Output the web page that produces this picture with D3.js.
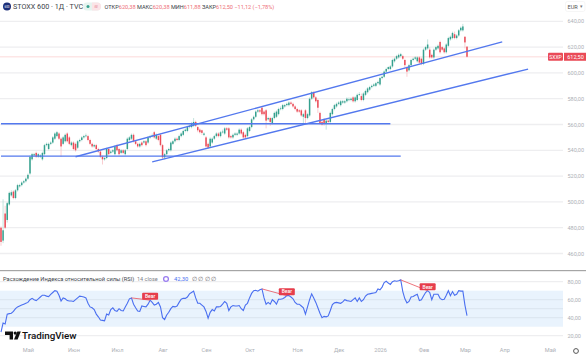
<!DOCTYPE html>
<html>
<head>
<meta charset="utf-8">
<script src="https://d3js.org/d3.v7.min.js"></script>
<style>
  html, body { margin: 0; padding: 0; background: #fff; overflow: hidden; }
  svg { display: block; font-family: Roboto, sans-serif; }
  .soft { filter: blur(0.35px); }
</style>
</head>
<body>
<svg id="chart" width="586" height="356"></svg>
<script>
const opens = [
  480,470,491,486,498,505,508,503,509,512, 513,515,516,518,522,533,536,538,535,535,
  533,537,544,541,545,546,549,551,553,549, 545,547,553,550,544,546,545,542,547,548,
  550,551,551,548,545,543,544,541,539,535, 533,534,541,538,539,537,544,541,538,540,
  537,541,548,549,552,547,545,543,546,546, 547,546,550,551,554,549,551,552,544,534.5,
  537,540,540,545,547,549,548,551,552,555, 555,558,558,559,562,558,556,555.5,552,550,
  545,543,546,549,551,553,551,554,553,557, 557,551,550,552,552,553,556,554,552,551,
  555,558,564,566,570,571,573,570,571,564, 565,561,565,566,568,572,572,574,575,575,
  577,576,574,572,571,571,566,571,565,567, 580,585,581,579,569,562,564,561,563,562,
  568,572,574,576,575,577,577,578,579,579, 581,578,579,583,582,579,583,585,587,589,
  590,590,592,591,596,597,601,603,603,605, 609,611,612,613,613,610,604,602,606,610,
  611,609,612,611,607,618,619,618,614,612, 618,619,624,620,619,616,621,626,627,630,
  627,629,633,633,628,620.38
];
const closes = [
  469,478,480,499,507,507.5,503,509,513,513, 515,516,518,521,535,537,537,535,537,536,
  538,544,545,545,546,550,553,554,549,543, 550,552,547,545,546,541,540,547,548,550,
  551,551.5,548,545,543,544,541,539,535,533, 534,541,537,539,540,543,540,537,540,538,
  540,549,550,552,547,545,543,545,544,547, 544,550,551,551.5,550,552,548,544,534.5,537,
  540,541,546,547,549,548,551,553,555,556, 558,559,561,562,559,555.5,554,553.5,553,543,
  542,549,549,551,553,551,554,554.5,557,556, 550,550,552,553,553,556,553,550,550,557,
  558,564,566,570,571,570,568,568,563,565, 562,565,569,570,572,572.5,575,575,576,577,
  576,574,572,570,570,567,568,565,568,580, 585,581,578,573,561,560,561,563,562,569,
  572,575,576,577,578,578,578,580,579.5,580, 578,581,583,583.5,579,584,586,588,589,590,
  591,592,593,596,597,601,603,604.5,605,610, 611,613,614,614.5,611,606,601,606,610,611,
  612,612,608,607,618,620,622,612,612,618, 620,621,616,618,616,622,627,628,631,627,
  629,633,635,636,623.62,612.5
];
const highs = [
  481,502,497,500,508,509,509,510,514,514, 516,517,519,522,536,538,538,539,538,537,
  539,545,546,546,547,551,554,555,554,550, 551,553,554,551,547,547,546,548,549,551,
  552,553,552,549,546,545,545,542,540,536, 535,542,542,540,541,544,545,542,541,541,
  541,550,551,553,553,548,546,546,547,548, 548,551,552,553,555,553,552,553,545,538,
  541,542,547,548,550,550,552,554,556,557, 559,560,562,565,563,559,557,556,554,551,
  546,550,550,552,554,554,555,556,558,558, 558,552,553,554,554,557,557,555,553,558,
  559,565,567,571,572,572,574,571,572,566, 566,566,570,571,573,574,576,576,577,578,
  578,577,575,573,572,572,569,572,569,581, 586,586,582,580,570,563,565,564,564,570,
  573,576,577,578,579,579,579,581,581,581, 582,582,584,585,584,585,587,589,590,591,
  592,593,594,597,598,602,604,605,606,611, 612,614,615,615.5,614,611,605,607,611,612,
  613,613,613,612,619,621,626,620,615,619, 621,622,625,621,620,623,628,629,632,632,
  630,634,636,638,628.5,620.38
];
const lows = [
  466,468,479,484,497,504,502,502,508,511, 512,514,515,517,521,532,535,534,534,534,
  532,536,543,540,544,545,548,550,548,535, 544,546,546,544,543,540,539,541,546,547,
  549,550,547,544,542,542,540,538,534,529, 532,533,536,537,538,536,539,536,537,537,
  536,540,547,548,546,544,542,542,543,545, 543,545,549,550,549,548,547,543,533,533,
  536,539,539,544,546,547,547,550,551,554, 554,557,557,558,558,554,553,552,551,542,
  541,542,545,548,550,550,550,553,552,555, 549,549,549,551,551,552,552,549,549,550,
  554,557,563,565,569,569,567,567,557,563, 559,560,564,565,567,571,571,573,574,574,
  575,573,571,569,569,566,561,561,564,566, 579,580,577,569,560,559,559,556,561,561,
  567,571,573,575,574,576,576,577,578,578, 577,577,578,582,578,578,582,584,586,588,
  589,589,591,590,595,596,600,602,602,604, 608,610,611,612,610,604,597,601,605,609,
  610,608,607,606,606,617,618,611,611,611, 617,618,615,617,615,615,620,625,626,626,
  626,628,632,632,619,611.88
];
const rsi = [
  24,34,33,44,44.5,45,47,50,52,53, 54,55,56,57,60,61.5,60,59,61,63,
  65,65,64,63.5,66,68,70,69.5,65,58.5, 62,61,59,58.5,58.5,58,60,62,64,63.5,
  63,62,56,52,51,49,44,41,37.5,37, 36.5,44,43,49,51,48,47,50,48,47.5,
  52,56,61,62,55,51,47.5,47,53,52.5, 52,55,59.5,57,54,55,57,52,40,38,
  43,46,50,52.5,52,53,57,60.5,61.5,61.5, 63,66.5,68,69.5,62,56,56,54,52,47,
  39.5,46,49,47.5,52,52,52.5,55,58,56, 48,52,53.5,53,53,53.5,50,48,54,56,
  62,67,70,70.5,69.5,71,72,62,55,57, 55,60,58,55,60.5,60.5,61,62.5,64.5,64.5,
  63,61,57,55,55,53,51,44,52,60, 66.5,62,57,51,45,40,41.5,41,42,48,
  54.5,56.5,57,56.5,56,57.5,60,59,58.5,58, 60,62,58,62,58,60,64,66,66.5,67,
  67.5,68,72,71,74,79,80.5,78.5,77,80, 81,80.5,81,82,69,61,56.5,58,63,63.5,
  65,66,59,60,64,68,70,68,60,66, 66,66,61.5,60,60.5,65,70,64.5,69,65,
  66,70,69.5,69.5,54,42.3
];

const priceTicks = [640,620,600,580,560,540,520,500,480,460];
const rsiTicks = [80,60,40,20];
const rsiGrid = [80,60,50,40,20];
const monthBars = [13,35,56,78,99,120,143,163,183,204,224,243,265];
const monthLabels = ['Май','Июн','Июл','Авг','Сен','Окт','Ноя','Дек','2026','Фев','Мар','Апр','Май'];

// trend lines, [bar, price]
const hLines = [[[0,560.6],[188,560.6]], [[0,535.5],[193,535.5]]];
const channelLines = [[[36,535],[242,624]], [[73,531],[254.5,603]]];
// bar pairs of the rsi divergences
const bearPairs = [[63,72],[126,138],[193,206]];

const lastPrice = 612.5;
const header = [
  ['ОТКР','620,38'],['МАКС','620,38'],['МИН','611,88'],['ЗАКР','612,50']
];

const width = 586;
const height = 356;
const axisX = 563;
const up = '#35a08e';
const down = '#ea4b57';
const upWick = '#b4dcd4';
const downWick = '#f8c0c4';
const blue = '#5378ee';
const gridColor = '#eeeef0';
const axisText = '#adb0b6';

const svg = d3.select('#chart');
const x = d3.scaleLinear().domain([0, 225]).range([1, 467]);
const y = d3.scaleLinear().domain([640, 460]).range([21.3, 253.5]);
const yRsi = d3.scaleLinear().domain([80, 20]).range([281.7, 335.7]);

const plot = svg.append('g').attr('class', 'soft');

// grid
plot.append('g').selectAll('line').data(priceTicks).join('line')
    .attr('x1', 0).attr('x2', axisX)
    .attr('y1', d => y(d)).attr('y2', d => y(d))
    .attr('stroke', gridColor).attr('stroke-width', 1.3);

// current price line
plot.append('line')
    .attr('x1', 0).attr('x2', 548)
    .attr('y1', y(lastPrice)).attr('y2', y(lastPrice))
    .attr('stroke', '#fde6e6').attr('stroke-width', 1.5);

// candles
const bars = plot.append('g').selectAll('g').data(closes).join('g');
bars.append('line')
    .attr('x1', (d, i) => x(i)).attr('x2', (d, i) => x(i))
    .attr('y1', (d, i) => y(highs[i])).attr('y2', (d, i) => y(lows[i]))
    .attr('stroke', (d, i) => d >= opens[i] ? upWick : downWick)
    .attr('stroke-width', 0.8);
bars.append('rect')
    .attr('x', (d, i) => x(i) - 0.75)
    .attr('width', 1.5)
    .attr('y', (d, i) => y(Math.max(d, opens[i])))
    .attr('height', (d, i) => Math.max(Math.abs(y(d) - y(opens[i])), 0.8))
    .attr('fill', (d, i) => d >= opens[i] ? up : down);

// trend lines
const trend = d3.line().x(d => x(d[0])).y(d => y(d[1]));
plot.append('g').selectAll('path').data(hLines).join('path')
    .attr('d', trend).attr('fill', 'none')
    .attr('stroke', blue).attr('stroke-width', 1.4);
plot.append('g').selectAll('path').data(channelLines).join('path')
    .attr('d', trend).attr('fill', 'none')
    .attr('stroke', blue).attr('stroke-width', 1.3);

// price axis
svg.append('g').selectAll('text').data(priceTicks).join('text')
    .attr('x', 567.5).attr('y', d => y(d) + 2)
    .attr('font-size', 5.5).attr('fill', axisText)
    .text(d => d3.format('.2f')(d).replace('.', ','));

// currency box
svg.append('rect').attr('x', 565.5).attr('y', 1.5).attr('width', 19.5).attr('height', 10)
    .attr('rx', 2).attr('fill', '#fff').attr('stroke', '#f0f0f0').attr('stroke-width', 0.6);
svg.append('text').attr('x', 567.5).attr('y', 8.6).attr('font-size', 5.6).attr('fill', '#555').text('EUR');
svg.append('text').attr('x', 580).attr('y', 8.2).attr('font-size', 4.5).attr('fill', '#777').text('▾');

// price tag
svg.append('rect').attr('x', 548).attr('y', y(lastPrice) - 4).attr('width', 15).attr('height', 8)
    .attr('rx', 1).attr('fill', down);
svg.append('rect').attr('x', 564).attr('y', y(lastPrice) - 4).attr('width', 22).attr('height', 8)
    .attr('fill', down);
svg.append('text').attr('x', 555.5).attr('y', y(lastPrice) + 2).attr('text-anchor', 'middle')
    .attr('font-size', 5).attr('fill', '#fff').text('SXXP');
svg.append('text').attr('x', 575.5).attr('y', y(lastPrice) + 2).attr('text-anchor', 'middle')
    .attr('font-size', 5.5).attr('fill', '#fff').text('612,50');

// header
svg.append('circle').attr('cx', 7).attr('cy', 6.5).attr('r', 4).attr('fill', '#1d2f78');
svg.append('text').attr('x', 7).attr('y', 7.8).attr('text-anchor', 'middle')
    .attr('font-size', 3).attr('fill', '#fff').text('600');
svg.append('text').attr('x', 13).attr('y', 9).attr('font-size', 7.2).attr('fill', '#3b3f49')
    .text('STOXX 600 · 1Д · TVC');
svg.append('rect').attr('x', 83).attr('y', 2.5).attr('width', 18).attr('height', 8).attr('rx', 4).attr('fill', '#e6f4ef');
svg.append('path').attr('d', 'M92 2.5h5a4 4 0 0 1 0 8h-5z').attr('fill', '#fbe4e7');
svg.append('circle').attr('cx', 88).attr('cy', 6.4).attr('r', 1.5).attr('fill', up);
svg.append('text').attr('x', 96).attr('y', 8.2).attr('text-anchor', 'middle').attr('font-size', 5).attr('fill', '#e58a97').text('≋');

const hdr = svg.append('text').attr('x', 104.5).attr('y', 8.6).attr('font-size', 5.6);
header.forEach(h => {
    hdr.append('tspan').attr('fill', '#3b3f49').text(h[0]);
    hdr.append('tspan').attr('fill', '#ee6f78').text(h[1] + ' ');
});
hdr.append('tspan').attr('fill', '#ee6f78').text('−11,12 (−1,78%)');

// pane separator
svg.append('rect').attr('x', 0).attr('y', 270).attr('width', width).attr('height', 1.2).attr('fill', '#a5a5a5');

const pane = svg.append('g').attr('class', 'soft');

// rsi band
pane.append('rect').attr('x', 0).attr('width', axisX)
    .attr('y', yRsi(70)).attr('height', yRsi(30) - yRsi(70)).attr('fill', '#e9f3fd');
pane.append('g').selectAll('line').data(rsiGrid).join('line')
    .attr('x1', 0).attr('x2', axisX)
    .attr('y1', d => yRsi(d)).attr('y2', d => yRsi(d))
    .attr('stroke', d => d >= 30 && d <= 70 ? '#dde7f1' : gridColor)
    .attr('stroke-width', 1.3);

// rsi line
pane.append('path').datum(rsi)
    .attr('d', d3.line().x((d, i) => x(i)).y(d => yRsi(d)))
    .attr('fill', 'none').attr('stroke', '#4a6ff0').attr('stroke-width', 1.1);

// divergences
const bear = svg.append('g').selectAll('g').data(bearPairs).join('g');
bear.append('line')
    .attr('x1', d => x(d[0])).attr('y1', d => yRsi(rsi[d[0]]))
    .attr('x2', d => x(d[1])).attr('y2', d => yRsi(rsi[d[1]]))
    .attr('stroke', '#e8505b').attr('stroke-width', 0.8);
bear.append('rect')
    .attr('x', d => x(d[1]) - 8).attr('y', d => yRsi(rsi[d[1]]) - 7.5)
    .attr('width', 16).attr('height', 7).attr('rx', 1)
    .attr('fill', '#e63e4c');
bear.append('text')
    .attr('x', d => x(d[1])).attr('y', d => yRsi(rsi[d[1]]) - 2.2)
    .attr('text-anchor', 'middle').attr('font-size', 5).attr('font-weight', 500).attr('fill', '#fff')
    .text('Bear');

// rsi legend
svg.append('text').attr('x', 3).attr('y', 281).attr('font-size', 5.7).attr('fill', '#3b3f49')
    .text('Расхождение Индекса относительной силы (RSI)');
svg.append('text').attr('x', 137).attr('y', 281).attr('font-size', 5.5).attr('fill', '#7c8088')
    .text('14 close');
svg.append('circle').attr('cx', 166).attr('cy', 279).attr('r', 2.4)
    .attr('fill', 'none').attr('stroke', '#9a7df0').attr('stroke-width', 1.3);
svg.append('text').attr('x', 174).attr('y', 281).attr('font-size', 5.8).attr('fill', '#4a6ff0').text('42,30');
svg.append('text').attr('x', 192).attr('y', 281).attr('font-size', 5.8).attr('fill', '#666').text('∅ ∅ ∅ ∅');

// rsi axis
svg.append('g').selectAll('text').data(rsiTicks).join('text')
    .attr('x', 567.5).attr('y', d => yRsi(d) + 2)
    .attr('font-size', 5.5).attr('fill', axisText)
    .text(d => d3.format('.2f')(d).replace('.', ','));

// time axis
const timeAxis = d3.axisBottom(x)
    .tickValues(monthBars)
    .tickSize(0)
    .tickFormat((d, i) => monthLabels[i]);
const tg = svg.append('g').attr('transform', 'translate(0,345)').call(timeAxis);
tg.select('.domain').remove();
tg.selectAll('text').attr('font-size', 5.6).attr('fill', axisText).attr('font-family', 'Roboto, sans-serif');

// gear
svg.append('circle').attr('cx', 576).attr('cy', 351).attr('r', 2.4)
    .attr('fill', 'none').attr('stroke', '#555').attr('stroke-width', 1);

// logo
const logo = svg.append('g').attr('fill', '#111');
logo.append('path').attr('d', 'M5 331.5h8v8h-3.4v-4.6h-4.6z');
logo.append('circle').attr('cx', 15.2).attr('cy', 333.1).attr('r', 1.6);
logo.append('path').attr('d', 'M17.3 331.5h3.5l-3.2 8h-3.6z');
svg.append('text').attr('x', 22).attr('y', 339).attr('font-size', 9.8).attr('font-weight', 500)
    .attr('fill', '#111').text('TradingView');
</script>
</body>
</html>
